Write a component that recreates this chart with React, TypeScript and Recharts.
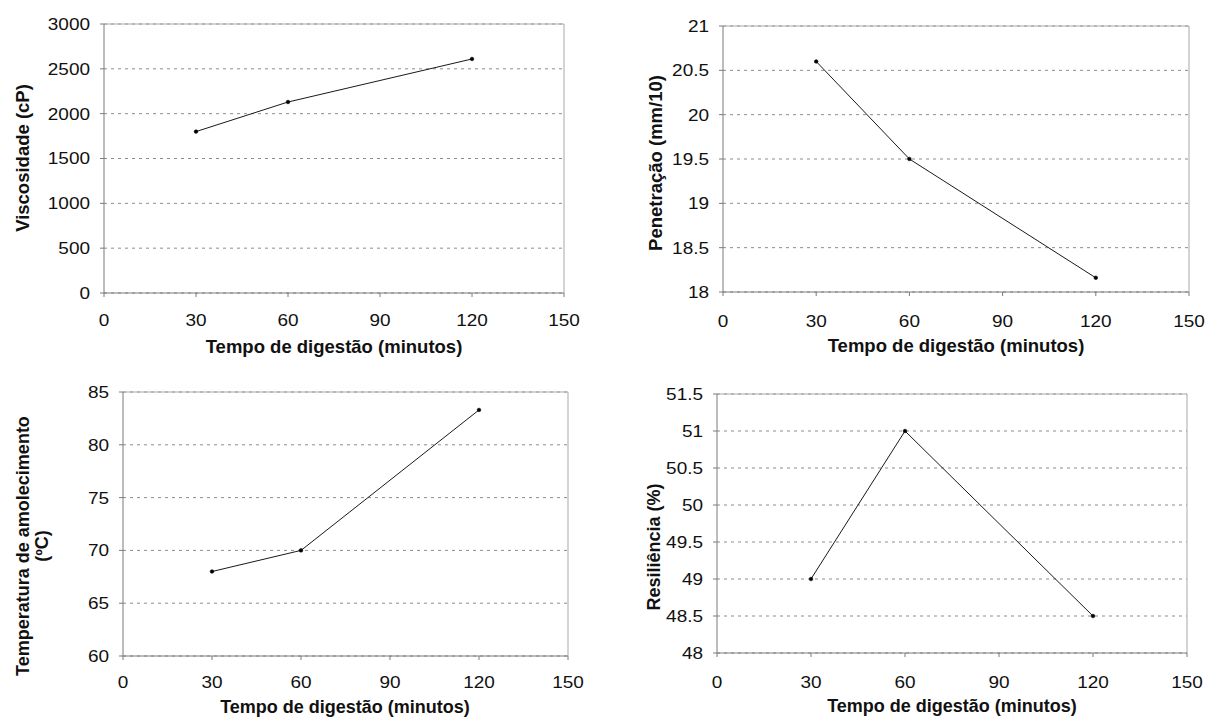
import React from 'react';
import { LineChart, Line, XAxis, YAxis, CartesianGrid, ReferenceLine } from 'recharts';

const minutes = [30, 60, 120];
const viscosity = [1800, 2130, 2610];
const penetration = [20.6, 19.5, 18.16];
const softening = [68, 70, 83.3];
const resilience = [49, 51, 48.5];

const xTicks = [0, 30, 60, 90, 120, 150];
const viscosityTicks = [0, 500, 1000, 1500, 2000, 2500, 3000];
const penetrationTicks = [18, 18.5, 19, 19.5, 20, 20.5, 21];
const softeningTicks = [60, 65, 70, 75, 80, 85];
const resilienceTicks = [48, 48.5, 49, 49.5, 50, 50.5, 51, 51.5];

const xTitle = 'Tempo de digestão (minutos)';
const viscosityTitle = ['Viscosidade (cP)'];
const penetrationTitle = ['Penetração (mm/10)'];
const softeningTitle = ['Temperatura de amolecimento', '(ºC)'];
const resilienceTitle = ['Resiliência (%)'];

const FONT = '"Liberation Sans", Arial, Helvetica, sans-serif';
const AXIS = '#7a7a7a';

const makeRows = (values: number[]) => minutes.map((m, i) => ({ m, v: values[i] }));

const YTick = (p: any) => (
  <g transform={`translate(${p.x},${p.y})`}>
    <text transform="scale(1.15,1)" textAnchor="end" dy="0.36em" fontSize={16.5} fontFamily={FONT} fill="#111">
      {p.payload.value}
    </text>
  </g>
);

const XTick = (p: any) => (
  <g transform={`translate(${p.x},${p.y})`}>
    <text transform="scale(1.15,1)" textAnchor="middle" dy="0.36em" fontSize={16.5} fontFamily={FONT} fill="#111">
      {p.payload.value}
    </text>
  </g>
);

type PanelProps = {
  box: { left: number; top: number; width: number; height: number };
  plot: { left: number; top: number; right: number; bottom: number };
  values: number[];
  yTicks: number[];
  yTitle: string[];
  yTitlePos: { x: number; y: number };
  xTitlePos: { x: number; y: number };
  titleSize: number;
  xLabelOffset: number;
};

function Panel(props: PanelProps) {
  const { box, plot, values, yTicks, yTitle, yTitlePos, xTitlePos, titleSize, xLabelOffset } = props;
  const data = makeRows(values);
  const yMin = yTicks[0];
  const yMax = yTicks[yTicks.length - 1];
  const lineGap = titleSize + 1;
  return (
    <div style={{ position: 'absolute', left: box.left, top: box.top, width: box.width, height: box.height }}>
      <LineChart
        width={box.width}
        height={box.height}
        data={data}
        margin={{ top: plot.top, right: box.width - plot.right, left: 0, bottom: 0 }}
      >
        <CartesianGrid horizontal vertical={false} stroke="#8c8c8c" strokeDasharray="3 4" />
        <ReferenceLine y={yMax} stroke="#a8a8a8" strokeWidth={1} />
        <ReferenceLine x={150} stroke="#a8a8a8" strokeWidth={1} />
        <XAxis
          dataKey="m"
          type="number"
          domain={[0, 150]}
          ticks={xTicks}
          interval={0}
          height={box.height - plot.bottom}
          stroke={AXIS}
          tickSize={4}
          tickMargin={xLabelOffset - 4}
          tick={XTick}
        />
        <YAxis
          type="number"
          domain={[yMin, yMax]}
          ticks={yTicks}
          interval={0}
          width={plot.left}
          stroke={AXIS}
          tickSize={4}
          tickMargin={10}
          tick={YTick}
        />
        <Line
          dataKey="v"
          type="linear"
          stroke="#1a1a1a"
          strokeWidth={1}
          dot={{ r: 1.8, fill: '#000', stroke: '#000', strokeWidth: 0.6 }}
          isAnimationActive={false}
        />
      </LineChart>
      <svg
        width={box.width}
        height={box.height}
        style={{ position: 'absolute', left: 0, top: 0, pointerEvents: 'none' }}
      >
        {yTitle.map((t, i) => {
          const cx = yTitlePos.x + (i - (yTitle.length - 1) / 2) * lineGap;
          return (
            <text
              key={i}
              transform={`translate(${cx},${yTitlePos.y}) rotate(-90)`}
              textAnchor="middle"
              dominantBaseline="central"
              fontSize={titleSize}
              fontWeight="bold"
              fontFamily={FONT}
              fill="#111"
            >
              {t}
            </text>
          );
        })}
        <text
          x={xTitlePos.x}
          y={xTitlePos.y}
          textAnchor="middle"
          dominantBaseline="central"
          fontSize={titleSize}
          fontWeight="bold"
          fontFamily={FONT}
          fill="#111"
        >
          {xTitle}
        </text>
      </svg>
    </div>
  );
}

export default function App() {
  return (
    <div style={{ position: 'absolute', left: 0, top: 0, width: 1207, height: 718, background: '#fff', overflow: 'hidden' }}>
      <Panel
        box={{ left: 0, top: 0, width: 600, height: 360 }}
        plot={{ left: 104, top: 24, right: 564, bottom: 293 }}
        values={viscosity}
        yTicks={viscosityTicks}
        yTitle={viscosityTitle}
        yTitlePos={{ x: 22, y: 158 }}
        xTitlePos={{ x: 334, y: 346 }}
        titleSize={18.5}
        xLabelOffset={27}
      />
      <Panel
        box={{ left: 600, top: 0, width: 607, height: 360 }}
        plot={{ left: 123, top: 26, right: 589, bottom: 292 }}
        values={penetration}
        yTicks={penetrationTicks}
        yTitle={penetrationTitle}
        yTitlePos={{ x: 55, y: 163 }}
        xTitlePos={{ x: 356, y: 345 }}
        titleSize={18.5}
        xLabelOffset={29}
      />
      <Panel
        box={{ left: 0, top: 360, width: 600, height: 358 }}
        plot={{ left: 123, top: 32, right: 568, bottom: 296 }}
        values={softening}
        yTicks={softeningTicks}
        yTitle={softeningTitle}
        yTitlePos={{ x: 32, y: 186 }}
        xTitlePos={{ x: 345, y: 347 }}
        titleSize={18}
        xLabelOffset={26}
      />
      <Panel
        box={{ left: 600, top: 360, width: 607, height: 358 }}
        plot={{ left: 117, top: 34, right: 587, bottom: 293 }}
        values={resilience}
        yTicks={resilienceTicks}
        yTitle={resilienceTitle}
        yTitlePos={{ x: 54, y: 187 }}
        xTitlePos={{ x: 352, y: 346 }}
        titleSize={18}
        xLabelOffset={29}
      />
    </div>
  );
}
